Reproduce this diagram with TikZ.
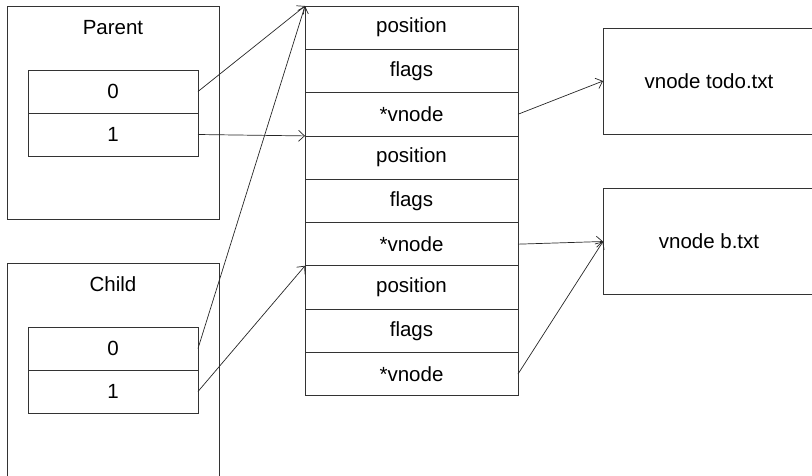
\documentclass[tikz,border=0pt]{standalone}
\usepackage{fontspec}
\setmainfont{Liberation Sans}
\usetikzlibrary{positioning,arrows.meta}

\begin{document}
\begin{tikzpicture}[x=1pt,y=-1pt,>={Straight Barb[length=6pt,width=11pt]},node distance=0pt,
	font=\fontsize{20.5}{24}\selectfont,
	box/.style={draw=black!80,line width=0.8pt,minimum width=212pt,minimum height=213pt,inner sep=0pt},
	slot/.style={draw=black!80,line width=0.8pt,minimum width=170pt,minimum height=43pt,inner sep=0pt,outer sep=0pt},
	cell/.style={draw=black!80,line width=0.8pt,minimum width=213pt,minimum height=43.3pt,inner sep=0pt,outer sep=0pt},
	file/.style={draw=black!80,line width=0.8pt,minimum width=212pt,minimum height=106pt,inner sep=0pt,outer sep=0pt},
	ptr/.style={->,draw=black!85,line width=0.7pt}]
	\useasboundingbox (0,0) rectangle (812,475);

	\node[box] (parent) at (113,112.5) {};
	\node (parentname) at (113,27.5) {Parent};
	\node[slot] (p0) at (113,91.5) {0};
	\node[slot] (p1) [below=of p0] {1};

	\node[box] (child) at (113,369.5) {};
	\node (childname) at (113,284.5) {Child};
	\node[slot] (c0) at (113,348.5) {0};
	\node[slot] (c1) [below=of c0] {1};

	\node[cell] (r1) at (411.5,27.65) {position};
	\node[cell] (r2) [below=of r1] {flags};
	\node[cell] (r3) [below=of r2] {*vnode};
	\node[cell] (r4) [below=of r3] {position};
	\node[cell] (r5) [below=of r4] {flags};
	\node[cell] (r6) [below=of r5] {*vnode};
	\node[cell] (r7) [below=of r6] {position};
	\node[cell] (r8) [below=of r7] {flags};
	\node[cell] (r9) [below=of r8] {*vnode};

	\node[file] (todo) at (709,81) {vnode todo.txt};
	\node[file] (btxt) at (709,241.5) {vnode b.txt};

	\draw[ptr] (p0.east) -- (r1.north west);
	\draw[ptr] (p1.east) -- (r3.south west);
	\draw[ptr] (c0.east) -- (r1.north west);
	\draw[ptr] (c1.east) -- (r6.south west);
	\draw[ptr] (r3.east) -- (todo.west);
	\draw[ptr] (r6.east) -- (btxt.west);
	\draw[ptr] (r9.east) -- (btxt.west);
\end{tikzpicture}
\end{document}
